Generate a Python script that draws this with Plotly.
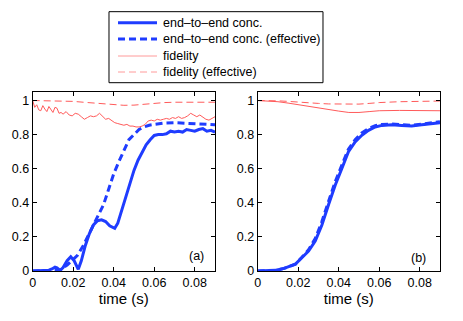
import plotly.graph_objects as go

# panel (a): end-to-end concurrence
t_a_conc = [0, 0.005, 0.008, 0.0095, 0.011, 0.012, 0.0135, 0.015, 0.017, 0.0188, 0.0205,
            0.0225, 0.024, 0.026, 0.028, 0.030, 0.032, 0.034, 0.036, 0.038, 0.0405, 0.042,
            0.044, 0.046, 0.048, 0.050, 0.052, 0.054, 0.056, 0.058, 0.060, 0.062, 0.064,
            0.066, 0.068, 0.070, 0.072, 0.074, 0.076, 0.078, 0.080, 0.082, 0.084, 0.086,
            0.088, 0.090]
conc_a = [0, 0.002, 0.005, 0.012, 0.022, 0.018, 0.003, 0.02, 0.06, 0.084, 0.06,
          0.01, 0.06, 0.15, 0.22, 0.27, 0.295, 0.30, 0.29, 0.265, 0.25, 0.28,
          0.36, 0.44, 0.52, 0.59, 0.65, 0.70, 0.74, 0.77, 0.795, 0.80, 0.80,
          0.805, 0.82, 0.815, 0.82, 0.815, 0.83, 0.825, 0.82, 0.83, 0.835, 0.82,
          0.825, 0.815]

t_a_eff = [0, 0.010, 0.0135, 0.017, 0.020, 0.022, 0.025, 0.028, 0.030, 0.0325, 0.035,
           0.0375, 0.040, 0.0425, 0.045, 0.0475, 0.050, 0.0525, 0.055, 0.0575, 0.060,
           0.065, 0.070, 0.075, 0.080, 0.085, 0.090]
conc_eff_a = [0, 0.002, 0.005, 0.035, 0.065, 0.09, 0.15, 0.22, 0.27, 0.33, 0.39,
              0.48, 0.57, 0.64, 0.71, 0.77, 0.80, 0.83, 0.845, 0.855, 0.86,
              0.868, 0.87, 0.868, 0.865, 0.862, 0.858]

t_a_fid = [0, 0.001, 0.002, 0.003, 0.004, 0.005, 0.006, 0.007, 0.008, 0.009, 0.010,
           0.011, 0.012, 0.013, 0.014, 0.015, 0.0165, 0.018, 0.0195, 0.021, 0.0225,
           0.024, 0.0255, 0.027, 0.0285, 0.030, 0.0315, 0.033, 0.0345, 0.036, 0.0375,
           0.039, 0.0405, 0.042, 0.0435, 0.045, 0.0465, 0.048, 0.0495, 0.051, 0.0525,
           0.054, 0.0555, 0.057, 0.0585, 0.060, 0.0615, 0.063, 0.0645, 0.066, 0.0675,
           0.069, 0.0705, 0.072, 0.0735, 0.075, 0.0765, 0.078, 0.0795, 0.081, 0.0825,
           0.084, 0.0855, 0.087, 0.0885, 0.090]
fid_a = [1.0, 0.96, 0.975, 0.945, 0.94, 0.97, 0.95, 0.935, 0.965, 0.945, 0.93,
         0.96, 0.955, 0.925, 0.93, 0.92, 0.935, 0.915, 0.91, 0.925, 0.92,
         0.905, 0.89, 0.90, 0.91, 0.905, 0.91, 0.925, 0.905, 0.89, 0.895,
         0.88, 0.87, 0.865, 0.86, 0.855, 0.86, 0.85, 0.85, 0.845, 0.845,
         0.85, 0.86, 0.88, 0.885, 0.88, 0.89, 0.885, 0.89, 0.895, 0.89,
         0.90, 0.895, 0.905, 0.895, 0.90, 0.91, 0.925, 0.915, 0.905, 0.915,
         0.90, 0.89, 0.885, 0.895, 0.905]

t_a_fid_eff = [0, 0.01, 0.02, 0.025, 0.03, 0.035, 0.04, 0.045, 0.05, 0.055, 0.06,
               0.065, 0.07, 0.08, 0.09]
fid_eff_a = [1.0, 0.998, 0.995, 0.99, 0.985, 0.98, 0.975, 0.972, 0.973, 0.978, 0.985,
             0.988, 0.99, 0.99, 0.99]

# panel (b)
t_b_conc = [0, 0.009, 0.013, 0.0186, 0.0218, 0.0251, 0.0284, 0.0317, 0.035, 0.0383,
            0.0415, 0.0448, 0.0481, 0.0514, 0.0547, 0.058, 0.0613, 0.0662, 0.0711,
            0.076, 0.081, 0.0859, 0.09]
conc_b = [0, 0.004, 0.015, 0.04, 0.078, 0.117, 0.175, 0.27, 0.39, 0.505,
          0.60, 0.70, 0.757, 0.796, 0.825, 0.845, 0.854, 0.858, 0.854,
          0.85, 0.858, 0.864, 0.87]
conc_eff_b = [0, 0.004, 0.015, 0.04, 0.08, 0.125, 0.19, 0.29, 0.41, 0.525,
              0.62, 0.715, 0.77, 0.81, 0.835, 0.852, 0.86, 0.862, 0.858,
              0.855, 0.862, 0.868, 0.875]

t_b_fid = [0, 0.005, 0.01, 0.015, 0.02, 0.025, 0.03, 0.035, 0.04, 0.045, 0.05,
           0.055, 0.06, 0.07, 0.08, 0.09]
fid_b = [1.0, 0.998, 0.993, 0.985, 0.975, 0.966, 0.958, 0.948, 0.938, 0.93, 0.93,
         0.935, 0.94, 0.942, 0.942, 0.94]
fid_eff_b = [1.0, 1.0, 0.998, 0.995, 0.99, 0.987, 0.983, 0.98, 0.979, 0.978, 0.979,
             0.983, 0.988, 0.993, 0.995, 0.997]

x_ticks = [0, 0.02, 0.04, 0.06, 0.08]
x_labels = ["0", "0.02", "0.04", "0.06", "0.08"]
y_ticks = [0, 0.2, 0.4, 0.6, 0.8, 1]
y_labels = ["0", "0.2", "0.4", "0.6", "0.8", "1"]
legend_names = ["end\u2013to\u2013end conc.", "end\u2013to\u2013end conc. (effective)",
                "fidelity", "fidelity (effective)"]

blue = "#1f3cff"
red = "#ff5a5a"
red_legend = "#ff9a9a"
dash = "7px,4px"
styles = [(blue, 3, "solid"), (blue, 3, dash), (red, 1, "solid"), (red, 1, dash)]

fig = go.Figure()

panels = [
    ("x", "y", [(t_a_conc, conc_a), (t_a_eff, conc_eff_a), (t_a_fid, fid_a), (t_a_fid_eff, fid_eff_a)]),
    ("x2", "y2", [(t_b_conc, conc_b), (t_b_conc, conc_eff_b), (t_b_fid, fid_b), (t_b_fid, fid_eff_b)]),
]
for xa, ya, curves in panels:
    for (xs, ys), (col, w, d), name in zip(curves, styles, legend_names):
        fig.add_trace(go.Scatter(x=xs, y=ys, xaxis=xa, yaxis=ya, mode="lines", name=name,
                                 showlegend=False, line=dict(color=col, width=w, dash=d)))

axis_common = dict(showline=True, linecolor="black", linewidth=1, mirror="ticks",
                   ticks="inside", ticklen=4, tickcolor="black", showgrid=False,
                   zeroline=False, automargin=False, tickfont=dict(size=12.5, color="black"))

# legend box drawn in paper coordinates (matlab-style, tight rows)
shapes = [dict(type="rect", xref="paper", yref="paper", x0=0.2354, x1=0.6976,
               y0=0.7424, y1=0.9636, line=dict(color="black", width=1), fillcolor="white")]
annotations = []
row_y = [0.9293, 0.8785, 0.8255, 0.7757]
for yy, (col, w, d), name in zip(row_y, styles, legend_names):
    lc = col if col == blue else red_legend
    shapes.append(dict(type="line", xref="paper", yref="paper", x0=0.2549, x1=0.3391,
                       y0=yy, y1=yy, line=dict(color=lc, width=w, dash=d)))
    annotations.append(dict(text=name, xref="paper", yref="paper", x=0.3477, y=yy,
                            xanchor="left", yanchor="middle", showarrow=False,
                            font=dict(size=12.5)))

annotations += [
    dict(text="(a)", x=0.0807, y=0.088, xref="x", yref="y", showarrow=False,
         font=dict(size=12.5)),
    dict(text="(b)", x=0.0792, y=0.076, xref="x2", yref="y2", showarrow=False,
         font=dict(size=12.5)),
]

fig.update_layout(
    width=463, height=321,
    margin=dict(l=0, r=0, t=0, b=0),
    paper_bgcolor="white", plot_bgcolor="white",
    showlegend=False,
    font=dict(family="Liberation Sans, Arial, sans-serif", size=12.5, color="black"),
    xaxis=dict(domain=[0.0706, 0.4644], range=[0, 0.09], tickvals=x_ticks, ticktext=x_labels,
               title=dict(text="time (s)", standoff=4), anchor="y", **axis_common),
    yaxis=dict(domain=[0.1558, 0.7134], range=[0, 1.05], tickvals=y_ticks, ticktext=y_labels,
               anchor="x", **axis_common),
    xaxis2=dict(domain=[0.5566, 0.9503], range=[0, 0.09], tickvals=x_ticks, ticktext=x_labels,
                title=dict(text="time (s)", standoff=4), anchor="y2", **axis_common),
    yaxis2=dict(domain=[0.1558, 0.7134], range=[0, 1.05], tickvals=y_ticks, ticktext=y_labels,
                anchor="x2", **axis_common),
    shapes=shapes,
    annotations=annotations,
)

fig.write_html("out.html", config={"displayModeBar": False},
               post_script="document.body.style.margin='0px';")
